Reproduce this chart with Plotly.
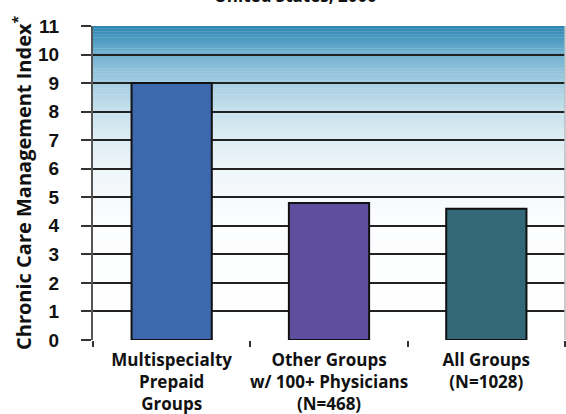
import plotly.graph_objects as go

categories = ["Multispecialty<br>Prepaid<br>Groups",
              "Other Groups<br>w/ 100+ Physicians<br>(N=468)",
              "All Groups<br>(N=1028)"]
values = [9.0, 4.8, 4.6]
bar_colors = ["#3D68AE", "#5E4E9D", "#336878"]
y_ticks = list(range(0, 12))

fig = go.Figure()
fig.add_trace(go.Bar(
    x=categories, y=values, width=0.51,
    marker=dict(color=bar_colors, line=dict(color="#111111", width=2)),
    hoverinfo="skip"))

# vertical gradient background in plot area
stops = [(0, (255, 255, 255)), (4, (252, 253, 254)), (5, (246, 249, 252)),
         (6, (238, 245, 249)), (7, (222, 237, 244)), (8, (200, 225, 236)),
         (9, (165, 205, 225)), (10, (115, 178, 209)), (11, (44, 133, 180))]

def col_at(v):
    for (a, ca), (b, cb) in zip(stops[:-1], stops[1:]):
        if a <= v <= b:
            t = (v - a) / (b - a)
            c = [round(ca[i] + (cb[i] - ca[i]) * t) for i in range(3)]
            return "rgb(%d,%d,%d)" % tuple(c)
    return "white"

n = 110
shapes = []
for i in range(n):
    y0 = 11 * i / n
    y1 = 11 * (i + 1) / n
    shapes.append(dict(type="rect", xref="paper", yref="y", x0=0, x1=1,
                       y0=y0, y1=y1 + 0.01, fillcolor=col_at((y0 + y1) / 2),
                       line=dict(width=0), layer="below"))
shapes.append(dict(type="line", xref="paper", yref="paper", x0=1, x1=1, y0=0, y1=1,
                   line=dict(color="#BBBBBB", width=1.5)))

fig.update_layout(
    width=566, height=414,
    margin=dict(l=93, r=1, t=26, b=74, autoexpand=False),
    paper_bgcolor="white", plot_bgcolor="white",
    showlegend=False,
    shapes=shapes,
    font=dict(family="Open Sans", color="#111111"),
    xaxis=dict(type="category", showgrid=False, showline=False, automargin=False,
               tickangle=0, ticklabelstandoff=8,
               ticks="outside", tickson="boundaries", ticklen=6,
               tickcolor="#333333", tickwidth=1.5,
               tickfont=dict(family="Open Sans", size=17, color="#111111", weight="bold"),
               zeroline=False),
    yaxis=dict(range=[0, 11], tickvals=y_ticks, showgrid=True, automargin=False,
               gridcolor="#222222", gridwidth=1.5,
               showline=True, linecolor="#555555", linewidth=2,
               ticks="outside", ticklen=10, tickcolor="#333333", tickwidth=1.5,
               ticklabelstandoff=18,
               tickfont=dict(family="Arial", size=19, color="#111111", weight="bold"),
               zeroline=False, fixedrange=True),
    annotations=[
        dict(text="<b>Chronic Care Management Index<sup>*</sup></b>", textangle=-90,
             xref="paper", yref="paper", x=(22 - 93) / 472, y=0.5,
             xanchor="center", yanchor="middle", showarrow=False,
             font=dict(family="Open Sans", size=20, color="#111111")),
        dict(text="<b>United States, 2000</b>", xref="paper", yref="paper",
             x=0.43, y=1 + 17 / 314, xanchor="center", yanchor="bottom",
             showarrow=False, font=dict(family="Open Sans", size=17, color="#111111")),
    ],
)
fig.write_html("out.html")
